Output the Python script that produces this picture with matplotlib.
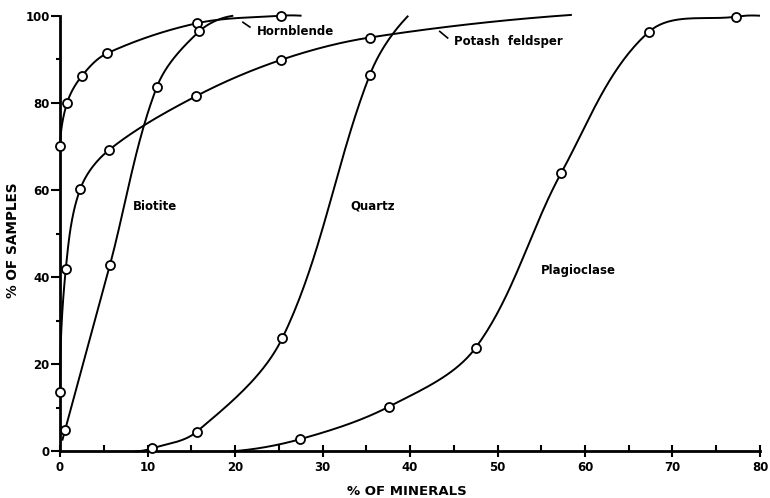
import numpy as np
import matplotlib
matplotlib.use('Agg')
import matplotlib.pyplot as plt

# measured points (open circles) for each mineral
horn_x = [0.0, 0.8, 2.5, 5.4, 15.7, 25.2]
horn_y = [70.0, 80.0, 86.2, 91.4, 98.3, 100.0]
potash_x = [0.0, 0.65, 2.3, 5.6, 15.5, 25.3, 35.4]
potash_y = [13.7, 41.8, 60.2, 69.2, 81.5, 89.9, 95.0]
biot_x = [0.57, 5.7, 11.05, 15.9]
biot_y = [4.9, 42.8, 83.6, 96.4]
quartz_x = [10.5, 15.6, 25.4, 35.4]
quartz_y = [0.7, 4.5, 26.0, 86.4]
plag_x = [27.4, 37.6, 47.5, 57.3, 67.3, 77.3]
plag_y = [2.8, 10.3, 23.8, 64.0, 96.3, 99.8]

# where the hand-drawn curves begin / end beyond the points
horn_ends = [None, (27.6, 100.0)]
potash_ends = [None, (58.5, 100.2)]
biot_ends = [(0.25, 2.5), (19.8, 100.0)]
quartz_ends = [(8.6, 0.0), (39.8, 100.0)]
plag_ends = [(19.4, 0.0), (80.0, 100.0)]


def smooth(xs, ys, ends, n=40):
    # hermite curve through the points, worked out in pixel-ish units
    xs = list(xs)
    ys = list(ys)
    if ends[0]:
        xs.insert(0, ends[0][0]); ys.insert(0, ends[0][1])
    if ends[1]:
        xs.append(ends[1][0]); ys.append(ends[1][1])
    sx, sy = 8.75, 4.355
    P = np.column_stack([np.array(xs) * sx, np.array(ys) * sy])
    k = len(P)
    unit = lambda v: v / np.linalg.norm(v)
    d = [None] * k
    for i in range(1, k - 1):
        d[i] = unit(P[i + 1] - P[i - 1])
    d[0] = unit(2 * unit(P[1] - P[0]) - d[1]) if k > 2 else unit(P[1] - P[0])
    d[-1] = unit(2 * unit(P[-1] - P[-2]) - d[-2]) if k > 2 else unit(P[-1] - P[-2])
    t = np.linspace(0, 1, n)[:, None]
    h00 = 2 * t**3 - 3 * t**2 + 1
    h10 = t**3 - 2 * t**2 + t
    h01 = -2 * t**3 + 3 * t**2
    h11 = t**3 - t**2
    out = []
    for i in range(k - 1):
        L = np.linalg.norm(P[i + 1] - P[i])
        out.append(h00 * P[i] + h10 * d[i] * L + h01 * P[i + 1] + h11 * d[i + 1] * L)
    c = np.vstack(out)
    return c[:, 0] / sx, c[:, 1] / sy


plt.rcParams['font.family'] = ['DejaVu Sans']
plt.rcParams['font.weight'] = 'bold'

fig = plt.figure(figsize=(7.7, 4.98), dpi=100)
ax = fig.add_axes([0.078, 0.0934, 0.909, 0.875])

series = [(horn_x, horn_y, horn_ends), (potash_x, potash_y, potash_ends),
          (biot_x, biot_y, biot_ends), (quartz_x, quartz_y, quartz_ends),
          (plag_x, plag_y, plag_ends)]
for xs, ys, ends in series:
    cx, cy = smooth(xs, ys, ends)
    ax.plot(cx, cy, color='black', lw=1.4, solid_capstyle='butt', clip_on=False)
    ax.plot(xs, ys, 'o', ms=6.5, mfc='white', mec='black', mew=1.3, clip_on=False, zorder=3)

ax.set_xlim(0, 80)
ax.set_ylim(0, 100)
for s in ['top', 'right']:
    ax.spines[s].set_visible(False)
ax.spines['left'].set_linewidth(2)
ax.spines['bottom'].set_linewidth(2)
ax.set_xticks(range(0, 81, 10))
ax.set_xticks(range(5, 80, 10), minor=True)
ax.set_yticks(range(0, 101, 20))
ax.set_yticks(range(10, 100, 20), minor=True)
ax.tick_params(axis='x', which='major', direction='inout', length=8, width=1.5, labelsize=8.5, pad=3)
ax.tick_params(axis='x', which='minor', direction='in', length=4, width=1.5)
ax.tick_params(axis='y', which='major', direction='out', length=6.5, width=1.5, labelsize=8.5, pad=1)
ax.tick_params(axis='y', which='minor', direction='out', length=3, width=1.5)
for lab in ax.get_xticklabels() + ax.get_yticklabels():
    lab.set_fontweight('bold')

ax.set_xlabel('% OF MINERALS', fontsize=9.5, fontweight='bold')
ax.set_ylabel('% OF SAMPLES', fontsize=9.8, fontweight='bold')
ax.xaxis.set_label_coords(0.495, -0.077)
ax.yaxis.set_label_coords(-0.057, 0.486)

# curve labels
ax.text(22.5, 96.3, 'Hornblende', fontsize=8.5, fontweight='bold', va='center', ha='left')
ax.plot([20.9, 21.7], [98.5, 97.4], color='black', lw=1.2)
ax.text(45.0, 94.0, 'Potash  feldsper', fontsize=8.5, fontweight='bold', va='center', ha='left')
ax.plot([43.4, 44.3], [96.4, 94.9], color='black', lw=1.2)
ax.text(10.9, 56.3, 'Biotite', fontsize=8.5, fontweight='bold', va='center', ha='center')
ax.text(35.7, 56.3, 'Quartz', fontsize=8.5, fontweight='bold', va='center', ha='center')
ax.text(59.2, 41.5, 'Plagioclase', fontsize=8.5, fontweight='bold', va='center', ha='center')

fig.savefig('out.png', dpi=100)
